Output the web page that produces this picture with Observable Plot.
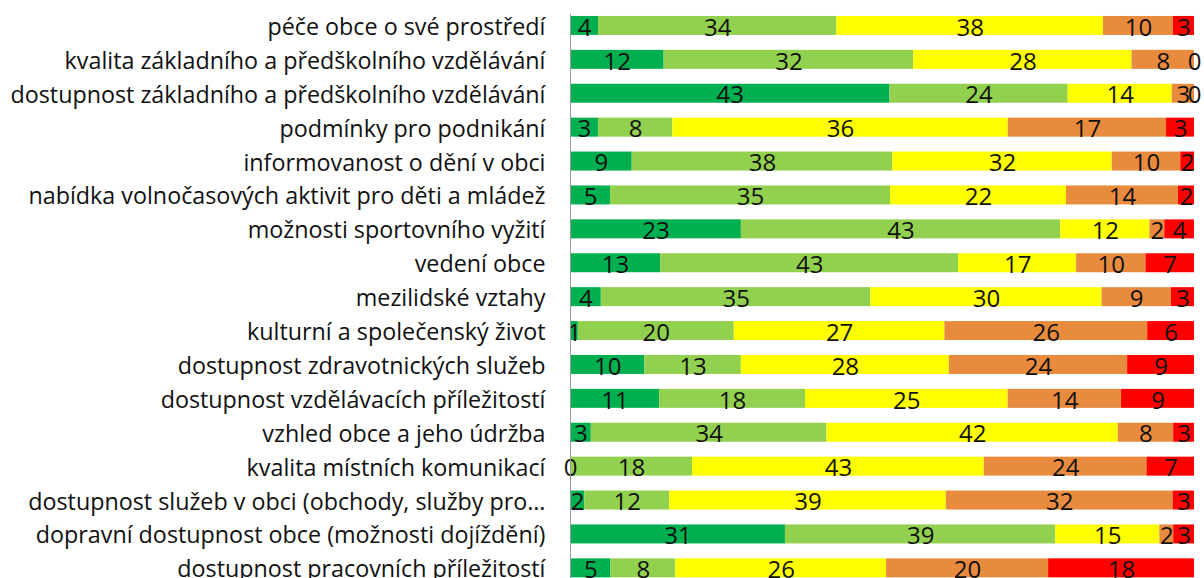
<!DOCTYPE html>
<html>
<head>
<meta charset="utf-8">
<script src="https://cdn.jsdelivr.net/npm/d3@7"></script>
<script src="https://cdn.jsdelivr.net/npm/@observablehq/plot@0.6"></script>
<style>
  html, body { margin: 0; padding: 0; overflow: hidden; background: #fff; }
  #chart svg { display: block; }
</style>
</head>
<body>
<div id="chart"></div>
<script>
const categories = [
  "péče obce o své prostředí",
  "kvalita základního a předškolního vzdělávání",
  "dostupnost základního a předškolního vzdělávání",
  "podmínky pro podnikání",
  "informovanost o dění v obci",
  "nabídka volnočasových aktivit pro děti a mládež",
  "možnosti sportovního vyžití",
  "vedení obce",
  "mezilidské vztahy",
  "kulturní a společenský život",
  "dostupnost zdravotnických služeb",
  "dostupnost vzdělávacích příležitostí",
  "vzhled obce a jeho údržba",
  "kvalita místních komunikací",
  "dostupnost služeb v obci (obchody, služby pro…",
  "dopravní dostupnost obce (možnosti dojíždění)",
  "dostupnost pracovních příležitostí"
];
const groups = ["s1", "s2", "s3", "s4", "s5"];
const colors = ["#00B050", "#92D050", "#FFFF00", "#E98B3E", "#FF0000"];
const s1 = [4, 12, 43, 3, 9, 5, 23, 13, 4, 1, 10, 11, 3, 0, 2, 31, 5];
const s2 = [34, 32, 24, 8, 38, 35, 43, 43, 35, 20, 13, 18, 34, 18, 12, 39, 8];
const s3 = [38, 28, 14, 36, 32, 22, 12, 17, 30, 27, 28, 25, 42, 43, 39, 15, 26];
const s4 = [10, 8, 3, 17, 10, 14, 2, 10, 9, 26, 24, 14, 8, 24, 32, 2, 20];
const s5 = [3, 0, 0, 3, 2, 2, 4, 7, 3, 6, 9, 9, 3, 7, 3, 3, 18];
const series = [s1, s2, s3, s4, s5];

const data = [];
categories.forEach((c, i) => {
  groups.forEach((g, j) => {
    data.push({cat: c, grp: g, value: series[j][i]});
  });
});

const chart = Plot.plot({
  width: 1204,
  height: 600,
  marginLeft: 570,
  marginRight: 10,
  marginTop: 14,
  marginBottom: 0,
  style: {fontFamily: "Open Sans", fontSize: "23px", color: "#111", background: "#fff"},
  x: {axis: null, domain: [0, 1]},
  y: {domain: categories, range: [8.5, 584.8], paddingInner: 0.44, paddingOuter: 0.22, round: false, axis: null},
  color: {domain: groups, range: colors},
  marks: [
    Plot.barX(data, Plot.stackX({x: "value", y: "cat", z: "grp", fill: "grp", offset: "normalize"})),
    Plot.text(data, Plot.stackX({x: "value", y: "cat", z: "grp", offset: "normalize", text: d => String(d.value), fill: "#111", fontSize: 24, dy: 2})),
    Plot.axisY({tickSize: 0, tickPadding: 25, fontSize: 23.3, label: null, textAnchor: "end", dy: 1.5}),
    Plot.ruleX([0], {stroke: "#9a9a9a", strokeWidth: 1})
  ]
});
document.getElementById("chart").appendChild(chart);
</script>
</body>
</html>
